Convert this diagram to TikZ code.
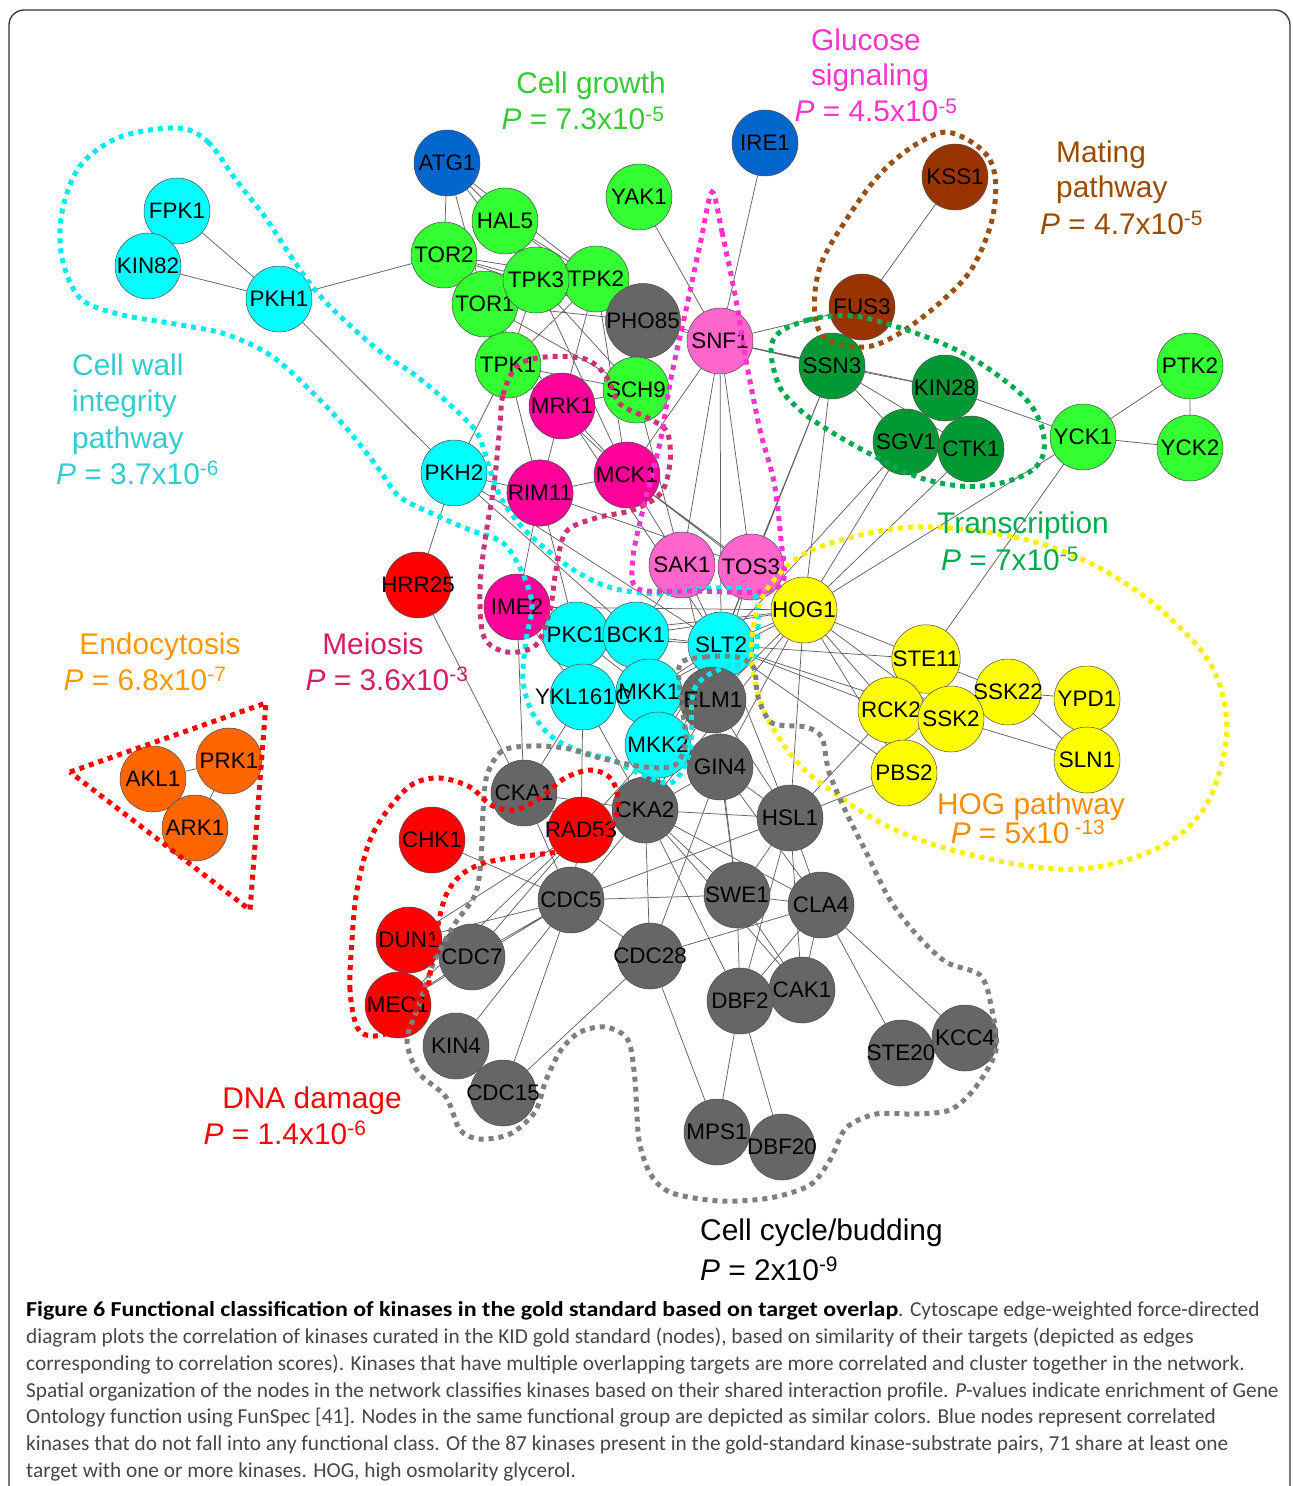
\documentclass[tikz,border=0pt]{standalone}
\usepackage{fontspec}
\setmainfont{Liberation Sans}
\newfontfamily\capfont{Carlito}
\usetikzlibrary{positioning}
\pgfdeclarelayer{background}
\pgfsetlayers{background,main}

\definecolor{kgray}{RGB}{102,102,102}
\definecolor{kgreen}{RGB}{51,255,51}
\definecolor{kdgreen}{RGB}{0,153,51}
\definecolor{kcyan}{RGB}{0,255,255}
\definecolor{kyellow}{RGB}{255,255,0}
\definecolor{kred}{RGB}{255,0,0}
\definecolor{korange}{RGB}{255,102,0}
\definecolor{kbrown}{RGB}{153,51,0}
\definecolor{kmagenta}{RGB}{255,0,153}
\definecolor{kpink}{RGB}{255,102,204}
\definecolor{kblue}{RGB}{0,102,204}
\definecolor{hcyan}{RGB}{0,235,240}
\definecolor{hmeiosis}{RGB}{204,51,119}
\definecolor{hglucose}{RGB}{255,51,204}
\definecolor{hmating}{RGB}{153,80,20}
\definecolor{htrans}{RGB}{0,170,80}
\definecolor{hhog}{RGB}{250,240,0}
\definecolor{hcycle}{RGB}{128,128,128}
\definecolor{lgrowth}{RGB}{51,204,51}
\definecolor{lwall}{RGB}{51,204,204}
\definecolor{lendo}{RGB}{255,153,0}
\definecolor{lmeiosis}{RGB}{210,30,100}
\definecolor{lhog}{RGB}{255,140,0}
\definecolor{lmating}{RGB}{153,76,0}
\definecolor{capgray}{RGB}{70,70,70}

\tikzset{
  kin/.style={circle, draw=black!70, line width=0.5bp, minimum size=66bp,
    inner sep=0pt, font=\fontsize{22.5}{24}\selectfont},
  link/.style={draw=black!62, line width=0.75bp},
  hull/.style={line width=5bp, dash pattern=on 5bp off 5bp},
  grp/.style={font=\fontsize{30}{36}\selectfont, inner sep=0pt},
  capline/.style={anchor=base west, inner sep=0pt, text=capgray,
    font=\capfont\fontsize{21.4}{24}\selectfont},
}

\begin{document}
\begin{tikzpicture}[x=1bp, y=-1bp]
\useasboundingbox (0,0) rectangle (1292,1486);
\draw[line width=1.3bp, black!80, rounded corners=15bp] (9,1486) -- (9,10) -- (1290,10) -- (1290,1486);

% kinases
\node[kin, fill=kblue] (ATG1) at (447,163) {ATG1};
\node[kin, fill=kblue] (IRE1) at (765,143) {IRE1};
\node[kin, fill=kcyan] (FPK1) at (177,211) {FPK1};
\node[kin, fill=kcyan] (KIN82) at (148,266) {KIN82};
\node[kin, fill=kcyan] (PKH1) at (279,299) {PKH1};
\node[kin, fill=kgreen] (HAL5) at (505,221) {HAL5};
\node[kin, fill=kgreen] (TOR2) at (444,255) {TOR2};
\node[kin, fill=kgreen] (YAK1) at (639,197) {YAK1};
\node[kin, fill=kgreen] (TOR1) at (485,304) {TOR1};
\node[kin, fill=kgreen] (TPK2) at (596,279) {TPK2};
\node[kin, fill=kgreen] (TPK3) at (536,280) {TPK3};
\node[kin, fill=kgray] (PHO85) at (643,321) {PHO85};
\node[kin, fill=kpink] (SNF1) at (720,341) {SNF1};
\node[kin, fill=kgreen] (TPK1) at (508,365) {TPK1};
\node[kin, fill=kgreen] (SCH9) at (636,390) {SCH9};
\node[kin, fill=kmagenta] (MRK1) at (562,406) {MRK1};
\node[kin, fill=kcyan] (PKH2) at (454,473) {PKH2};
\node[kin, fill=kmagenta] (RIM11) at (540,493) {RIM11};
\node[kin, fill=kmagenta] (MCK1) at (627,475) {MCK1};
\node[kin, fill=kbrown] (KSS1) at (955,177) {KSS1};
\node[kin, fill=kbrown] (FUS3) at (862,307) {FUS3};
\node[kin, fill=kdgreen] (SSN3) at (832,366) {SSN3};
\node[kin, fill=kdgreen] (KIN28) at (945,388) {KIN28};
\node[kin, fill=kdgreen] (SGV1) at (906,442) {SGV1};
\node[kin, fill=kdgreen] (CTK1) at (971,449) {CTK1};
\node[kin, fill=kgreen] (YCK1) at (1083,437) {YCK1};
\node[kin, fill=kgreen] (PTK2) at (1190,366) {PTK2};
\node[kin, fill=kgreen] (YCK2) at (1190,448) {YCK2};
\node[kin, fill=kred] (HRR25) at (418,585) {\makebox[0pt]{HRR25}};
\node[kin, fill=kmagenta] (IME2) at (517,607) {IME2};
\node[kin, fill=kpink] (SAK1) at (682,565) {SAK1};
\node[kin, fill=kpink] (TOS3) at (751,567) {TOS3};
\node[kin, fill=kyellow] (HOG1) at (804,610) {HOG1};
\node[kin, fill=kcyan] (PKC1) at (576,635) {PKC1};
\node[kin, fill=kcyan] (BCK1) at (636,635) {BCK1};
\node[kin, fill=kcyan] (SLT2) at (721,645) {SLT2};
\node[kin, fill=kcyan] (MKK1) at (649,692) {MKK1};
\node[kin, fill=kcyan] (YKL161C) at (583,697) {\makebox[0pt]{YKL161C}};
\node[kin, fill=kgray] (ELM1) at (713,700) {ELM1};
\node[kin, fill=kcyan] (MKK2) at (658,745) {MKK2};
\node[kin, fill=kgray] (GIN4) at (720,767) {GIN4};
\node[kin, fill=kyellow] (STE11) at (926,659) {STE11};
\node[kin, fill=kyellow] (SSK22) at (1008,692) {\makebox[0pt]{SSK22}};
\node[kin, fill=kyellow] (YPD1) at (1087,699) {YPD1};
\node[kin, fill=kyellow] (RCK2) at (891,710) {RCK2};
\node[kin, fill=kyellow] (SSK2) at (951,719) {SSK2};
\node[kin, fill=kyellow] (SLN1) at (1087,760) {SLN1};
\node[kin, fill=kyellow] (PBS2) at (904,773) {PBS2};
\node[kin, fill=korange] (AKL1) at (153,779) {AKL1};
\node[kin, fill=korange] (PRK1) at (229,761) {PRK1};
\node[kin, fill=korange] (ARK1) at (195,828) {ARK1};
\node[kin, fill=kgray] (CKA1) at (524,793) {CKA1};
\node[kin, fill=kgray] (CKA2) at (645,810) {CKA2};
\node[kin, fill=kred] (RAD53) at (581,830) {\makebox[0pt]{RAD53}};
\node[kin, fill=kgray] (HSL1) at (790,818) {HSL1};
\node[kin, fill=kred] (CHK1) at (432,840) {CHK1};
\node[kin, fill=kgray] (CDC5) at (571,900) {CDC5};
\node[kin, fill=kgray] (SWE1) at (737,895) {SWE1};
\node[kin, fill=kgray] (CLA4) at (821,905) {CLA4};
\node[kin, fill=kred] (DUN1) at (409,940) {DUN1};
\node[kin, fill=kgray] (CDC7) at (472,957) {CDC7};
\node[kin, fill=kgray] (CDC28) at (650,956) {\makebox[0pt]{CDC28}};
\node[kin, fill=kred] (MEC1) at (398,1005) {MEC1};
\node[kin, fill=kgray] (CAK1) at (802,990) {CAK1};
\node[kin, fill=kgray] (DBF2) at (740,1001) {DBF2};
\node[kin, fill=kgray] (KIN4) at (456,1046) {KIN4};
\node[kin, fill=kgray] (CDC15) at (503,1093) {\makebox[0pt]{CDC15}};
\node[kin, fill=kgray] (STE20) at (901,1053) {\makebox[0pt]{STE20}};
\node[kin, fill=kgray] (KCC4) at (965,1038) {KCC4};
\node[kin, fill=kgray] (MPS1) at (717,1132) {MPS1};
\node[kin, fill=kgray] (DBF20) at (782,1147) {\makebox[0pt]{DBF20}};

% correlation edges
\begin{pgfonlayer}{background}
\draw[link] (FPK1) -- (PKH1) (KIN82) -- (PKH1) (PKH1) -- (TOR2) (PKH1) -- (PKH2);
\draw[link] (ATG1) -- (TOR2) (ATG1) -- (HAL5) (ATG1) -- (TPK3) (ATG1) -- (TPK2) (ATG1) -- (TOR1);
\draw[link] (HAL5) -- (TPK2) (HAL5) -- (TPK3) (HAL5) -- (PHO85);
\draw[link] (TOR2) -- (TPK3) (TOR2) -- (TPK2) (TOR2) -- (PHO85) (TOR2) -- (TOR1);
\draw[link] (TOR1) -- (TPK2) (TOR1) -- (PHO85) (TOR1) -- (SCH9) (TOR1) -- (MRK1);
\draw[link] (TPK3) -- (SNF1) (TPK3) -- (SCH9) (TPK3) -- (MCK1) (TPK3) -- (TPK1);
\draw[link] (TPK2) -- (TPK1) (TPK2) -- (MRK1) (TPK2) -- (MCK1) (TPK2) -- (PHO85);
\draw[link] (TPK1) -- (SCH9) (TPK1) -- (PKH2) (TPK1) -- (RIM11) (TPK1) -- (MCK1);
\draw[link] (YAK1) -- (SNF1) (IRE1) -- (SNF1) (PHO85) -- (SNF1) (PHO85) -- (SCH9);
\draw[link] (SNF1) -- (FUS3) (SNF1) -- (SSN3) (SNF1) -- (KIN28) (SNF1) -- (SAK1) (SNF1) -- (TOS3) (SNF1) -- (SLT2) (SNF1) -- (MCK1);
\draw[link] (FUS3) -- (KSS1);
\draw[link] (SSN3) -- (KIN28) (SSN3) -- (SGV1) (SSN3) -- (CTK1) (SSN3) -- (HOG1) (SSN3) -- (TOS3) (SSN3) -- (SLT2);
\draw[link] (KIN28) -- (YCK1) (KIN28) -- (SGV1) (KIN28) -- (CTK1) (SGV1) -- (CTK1);
\draw[link] (SGV1) -- (HOG1) (SGV1) -- (SLT2) (CTK1) -- (HOG1);
\draw[link] (YCK1) -- (PTK2) (YCK1) -- (YCK2) (PTK2) -- (YCK2) (YCK1) -- (HOG1) (YCK1) -- (STE11);
\draw[link] (MRK1) -- (MCK1) (MRK1) -- (RIM11) (SCH9) -- (MRK1) (SCH9) -- (SAK1) (MRK1) -- (SLT2);
\draw[link] (PKH2) -- (HRR25) (PKH2) -- (SLT2) (PKH2) -- (BCK1) (PKH2) -- (RIM11);
\draw[link] (RIM11) -- (IME2) (RIM11) -- (PKC1) (RIM11) -- (MCK1) (RIM11) -- (TOS3);
\draw[link] (MCK1) -- (TOS3) (MCK1) -- (SAK1) (MCK1) -- (HOG1);
\draw[link] (HRR25) -- (CKA1) (IME2) -- (HOG1) (IME2) -- (YKL161C) (IME2) -- (CKA1);
\draw[link] (SAK1) -- (SLT2) (SAK1) -- (ELM1) (TOS3) -- (SLT2) (TOS3) -- (ELM1) (SAK1) -- (BCK1);
\draw[link] (HOG1) -- (SLT2) (HOG1) -- (STE11) (HOG1) -- (RCK2) (HOG1) -- (SSK2) (HOG1) -- (PBS2) (HOG1) -- (HSL1);
\draw[link] (HOG1) -- (PKC1) (HOG1) -- (BCK1) (HOG1) -- (ELM1) (HOG1) -- (GIN4) (HOG1) -- (CKA2) (HOG1) -- (MKK1);
\draw[link] (PKC1) -- (BCK1) (PKC1) -- (SLT2) (PKC1) -- (MKK1) (PKC1) -- (YKL161C);
\draw[link] (BCK1) -- (SLT2) (BCK1) -- (MKK1) (BCK1) -- (MKK2) (MKK1) -- (MKK2) (MKK1) -- (SLT2) (MKK2) -- (SLT2);
\draw[link] (SLT2) -- (STE11) (SLT2) -- (RCK2) (SLT2) -- (SSK2) (SLT2) -- (PBS2) (SLT2) -- (HSL1) (SLT2) -- (CKA2) (SLT2) -- (GIN4);
\draw[link] (STE11) -- (SSK2) (STE11) -- (SSK22) (STE11) -- (RCK2);
\draw[link] (SSK22) -- (YPD1) (SSK22) -- (SLN1) (SSK2) -- (SLN1) (YPD1) -- (SLN1) (SSK2) -- (SSK22);
\draw[link] (RCK2) -- (PBS2) (RCK2) -- (HSL1) (PBS2) -- (HSL1);
\draw[link] (YKL161C) -- (CKA1) (YKL161C) -- (RAD53) (YKL161C) -- (CKA2);
\draw[link] (MKK2) -- (CKA2) (MKK2) -- (RAD53) (ELM1) -- (CKA2) (ELM1) -- (HSL1) (ELM1) -- (SWE1);
\draw[link] (GIN4) -- (CKA2) (GIN4) -- (HSL1) (GIN4) -- (CLA4) (GIN4) -- (SWE1) (GIN4) -- (CDC28);
\draw[link] (CKA1) -- (RAD53) (CKA1) -- (CKA2) (CKA1) -- (CDC5);
\draw[link] (RAD53) -- (CKA2) (RAD53) -- (CDC5) (RAD53) -- (DUN1) (RAD53) -- (CDC7) (RAD53) -- (MEC1);
\draw[link] (CKA2) -- (HSL1) (CKA2) -- (SWE1) (CKA2) -- (CLA4) (CKA2) -- (CDC5) (CKA2) -- (CDC28) (CKA2) -- (DBF2) (CKA2) -- (CAK1);
\draw[link] (HSL1) -- (SWE1) (HSL1) -- (CLA4) (HSL1) -- (CDC5) (HSL1) -- (CAK1) (HSL1) -- (DBF2);
\draw[link] (CHK1) -- (CDC5);
\draw[link] (CDC5) -- (SWE1) (CDC5) -- (CDC7) (CDC5) -- (DUN1) (CDC5) -- (MEC1) (CDC5) -- (CDC28) (CDC5) -- (KIN4) (CDC5) -- (CDC15);
\draw[link] (SWE1) -- (CLA4) (SWE1) -- (DBF2) (SWE1) -- (CAK1);
\draw[link] (CLA4) -- (CDC28) (CLA4) -- (DBF2) (CLA4) -- (CAK1) (CLA4) -- (STE20) (CLA4) -- (KCC4);
\draw[link] (DUN1) -- (CDC7) (MEC1) -- (CDC7);
\draw[link] (CDC28) -- (CDC15) (CDC28) -- (MPS1);
\draw[link] (DBF2) -- (MPS1) (DBF2) -- (DBF20) (DBF2) -- (CAK1) (STE20) -- (KCC4);
\draw[link] (AKL1) -- (PRK1) (AKL1) -- (ARK1) (PRK1) -- (ARK1);
\end{pgfonlayer}

% functional groups (dotted outlines)
\draw[hull, hcyan] plot[smooth cycle, tension=0.55] coordinates {
  (178,128) (208,142) (236,180) (265,217) (290,255) (315,290) (344,320) (382,353)
  (415,375) (448,403) (477,433) (490,470) (502,500) (522,527) (547,550) (577,572)
  (612,588) (660,594) (710,588) (752,592) (758,625) (752,660) (722,668) (694,690)
  (690,750) (673,782) (645,776) (612,760) (580,751) (552,737) (532,712) (523,680)
  (526,640) (532,605) (522,572) (503,543) (470,530) (440,517) (400,497) (378,468)
  (348,430) (310,390) (270,355) (225,334) (175,324) (118,314) (80,298) (62,258)
  (62,212) (80,166) (120,137)};
\draw[hull, hmeiosis] plot[smooth cycle, tension=0.55] coordinates {
  (500,425) (503,395) (517,366) (545,357) (585,359) (606,376) (620,404) (648,418)
  (667,432) (670,462) (661,493) (633,510) (596,518) (566,532) (556,570) (550,610)
  (536,645) (507,652) (484,637) (480,590) (485,540) (494,485)};
\draw[hull, hglucose] plot[smooth cycle, tension=0.5] coordinates {
  (712,192) (722,232) (736,300) (746,360) (760,430) (774,482) (781,540) (783,582)
  (755,592) (700,591) (638,589) (633,558) (641,518) (651,478) (661,438) (671,378)
  (686,310) (701,240)};
\draw[hull, hmating] plot[smooth cycle, tension=0.6] coordinates {
  (952,133) (990,160) (994,210) (974,265) (943,300) (900,333) (865,347) (828,340)
  (815,315) (820,267) (848,217) (882,172) (920,142)};
\draw[hull, htrans] plot[smooth cycle, tension=0.6] coordinates {
  (773,340) (808,320) (853,316) (894,326) (934,340) (970,357) (1004,380) (1030,404)
  (1043,432) (1042,458) (1026,474) (996,484) (960,486) (918,477) (876,457) (833,433)
  (800,410) (778,383)};
\draw[hull, hhog] plot[smooth cycle, tension=0.6] coordinates {
  (931,527) (1014,537) (1077,557) (1131,587) (1172,620) (1210,663) (1226,713)
  (1222,763) (1201,813) (1160,847) (1097,867) (1035,867) (952,850) (889,827)
  (840,797) (798,763) (765,713) (752,663) (755,620) (770,585) (806,553) (870,533)};
\draw[hull, hcycle] plot[smooth cycle, tension=0.5] coordinates {
  (680,664) (705,657) (737,657) (754,668) (758,697) (772,723) (806,727) (822,738)
  (829,772) (846,812) (866,852) (890,900) (916,934) (946,962) (980,975) (991,1005)
  (996,1050) (975,1088) (950,1110) (914,1114) (876,1114) (846,1128) (830,1160)
  (810,1185) (770,1198) (720,1201) (672,1193) (651,1175) (639,1140) (635,1080)
  (628,1040) (606,1027) (580,1032) (561,1050) (546,1080) (535,1112) (510,1134)
  (480,1139) (460,1130) (446,1097) (418,1072) (407,1040) (419,1005) (434,962)
  (454,925) (475,895) (481,860) (483,812) (487,775) (502,751) (530,746) (565,748)
  (600,758) (645,767) (675,765) (686,740) (681,700)};
\draw[hull, kred] plot[smooth cycle, tension=0.55] coordinates {
  (357,1027) (350,990) (352,940) (357,890) (370,840) (390,807) (413,784) (440,778)
  (470,787) (491,805) (515,810) (540,798) (565,778) (592,770) (612,780) (618,805)
  (609,830) (580,848) (550,853) (517,857) (484,863) (461,875) (446,895) (438,925)
  (432,960) (427,990) (413,1013) (395,1030) (372,1036)};
\draw[hull, kred] (70,772) -- (266,703) -- (250,910) -- cycle;

% group labels
\node[grp, text=lgrowth, anchor=base] (growthA) at (591,94) {Cell growth};
\node[grp, text=lgrowth, anchor=base] (growthB) at (583,130) {\textit{P} = 7.3x10\textsuperscript{-5}};
\node[grp, text=hglucose, anchor=base] (glucA) at (866,51) {Glucose};
\node[grp, text=hglucose, anchor=base] (glucB) at (870,86) {signaling};
\node[grp, text=hglucose, anchor=base] (glucC) at (876,122) {\textit{P} = 4.5x10\textsuperscript{-5}};
\node[grp, text=lmating, anchor=base west] (matA) at (1056,163) {Mating};
\node[grp, text=lmating, anchor=base west] (matB) at (1056,198) {pathway};
\node[grp, text=lmating, anchor=base west] (matC) at (1040,234) {\textit{P} = 4.7x10\textsuperscript{-5}};
\node[grp, text=lwall, anchor=base west] (wallA) at (72,375) {Cell wall};
\node[grp, text=lwall, anchor=base west] (wallB) at (72,411) {integrity};
\node[grp, text=lwall, anchor=base west] (wallC) at (72,448) {pathway};
\node[grp, text=lwall, anchor=base west] (wallD) at (56,484) {\textit{P} = 3.7x10\textsuperscript{-6}};
\node[grp, text=htrans, anchor=base] (transA) at (1023,533) {Transcription};
\node[grp, text=htrans, anchor=base] (transB) at (1010,570) {\textit{P} = 7x10\textsuperscript{-5}};
\node[grp, text=lendo, anchor=base] (endoA) at (160,654) {Endocytosis};
\node[grp, text=lendo, anchor=base] (endoB) at (145,690) {\textit{P} = 6.8x10\textsuperscript{-7}};
\node[grp, text=lmeiosis, anchor=base] (meioA) at (373,654) {Meiosis};
\node[grp, text=lmeiosis, anchor=base] (meioB) at (387,690) {\textit{P} = 3.6x10\textsuperscript{-3}};
\node[grp, text=lhog, anchor=base] (hogA) at (1031,814) {HOG pathway};
\node[grp, text=lhog, anchor=base] (hogB) at (1028,843) {\textit{P} = 5x10\,\textsuperscript{-13}};
\node[grp, text=kred, anchor=base] (dnaA) at (312,1108) {DNA damage};
\node[grp, text=kred, anchor=base] (dnaB) at (285,1144) {\textit{P} = 1.4x10\textsuperscript{-6}};
\node[grp, anchor=base west] (cycA) at (700,1240) {Cell cycle/budding};
\node[grp, anchor=base west] (cycB) at (700,1280) {\textit{P} = 2x10\textsuperscript{-9}};

% caption
\node[capline] (cap1) at (26,1316) {\scalebox{1.125}[1]{\textcolor{black}{\textbf{Figure 6 Functional classification of kinases in the gold standard based on target overlap}}}. Cytoscape edge-weighted force-directed};
\node[capline] (cap2) at (26,1343) {diagram plots the correlation of kinases curated in the KID gold standard (nodes), based on similarity of their targets (depicted as edges};
\node[capline] (cap3) at (26,1370) {corresponding to correlation scores). Kinases that have multiple overlapping targets are more correlated and cluster together in the network.};
\node[capline] (cap4) at (26,1397) {Spatial organization of the nodes in the network classifies kinases based on their shared interaction profile. \textit{P}-values indicate enrichment of Gene};
\node[capline] (cap5) at (26,1423) {Ontology function using FunSpec [41]. Nodes in the same functional group are depicted as similar colors. Blue nodes represent correlated};
\node[capline] (cap6) at (26,1450) {kinases that do not fall into any functional class. Of the 87 kinases present in the gold-standard kinase-substrate pairs, 71 share at least one};
\node[capline] (cap7) at (26,1477) {target with one or more kinases. HOG, high osmolarity glycerol.};
\end{tikzpicture}
\end{document}
